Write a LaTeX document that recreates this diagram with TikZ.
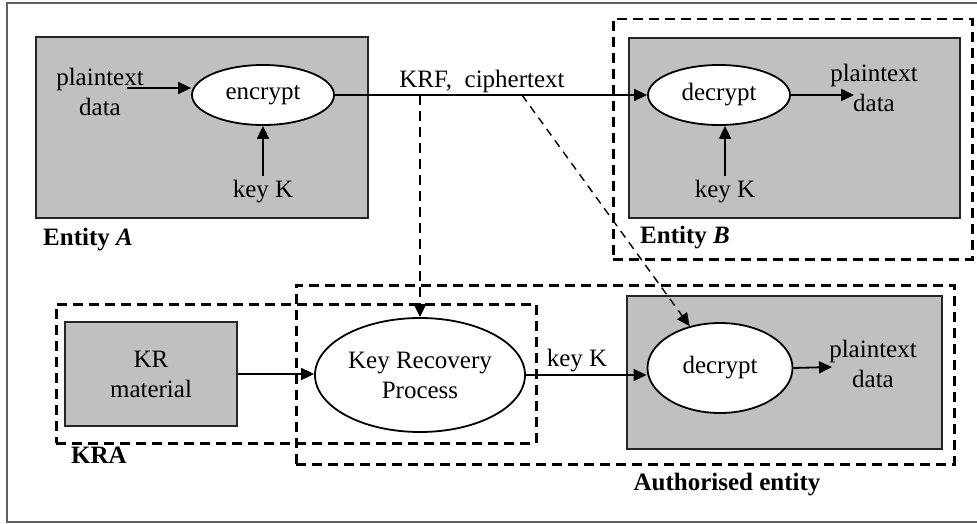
\documentclass[tikz,border=0pt]{standalone}
\usepackage{fontspec}
\setmainfont{Liberation Serif}
\usetikzlibrary{shapes.geometric,arrows.meta,calc}
\definecolor{gboxfill}{HTML}{C0C0C0}
\definecolor{framegray}{HTML}{606060}
\begin{document}
\begin{tikzpicture}[x=1pt,y=-1pt,
  every node/.style={font=\fontsize{25}{30}\selectfont, inner sep=3pt},
  graybox/.style={draw=black!85, line width=1.8pt, fill=gboxfill, anchor=north west, inner sep=0pt},
  dashbox/.style={draw=black, line width=2.5pt, dash pattern=on 10pt off 6pt, anchor=north west, inner sep=0pt},
  proc/.style={ellipse, draw=black, line width=1.8pt, fill=white, inner sep=0pt, align=center},
  arr/.style={line width=1.8pt, -{Triangle[length=13pt,width=12pt]}},
  darr/.style={line width=2.2pt, dash pattern=on 10pt off 6pt, -{Triangle[length=13pt,width=12pt]}},
  thinarr/.style={line width=1.4pt, dash pattern=on 8pt off 6pt, -{Triangle[length=13pt,width=12pt]}},
  lab/.style={anchor=base},
  two/.style={align=center},
  bold/.style={font=\fontsize{25}{30}\selectfont\bfseries}
]
\useasboundingbox (0,0) rectangle (977,524);
% outer frame
\draw[framegray, line width=2pt] (977,3) -- (7,3) -- (7,522) -- (977,522);

% grey boxes
\node[graybox, minimum width=332pt, minimum height=181pt] (boxA) at (35,36) {};
\node[graybox, minimum width=331pt, minimum height=180pt] (boxB) at (628,37) {};
\node[graybox, minimum width=315pt, minimum height=153pt] (boxC) at (626,295) {};

% dashed boxes
\node[dashbox, minimum width=359pt, minimum height=240pt] (dashB) at (612,18) {};
\node[dashbox, minimum width=658pt, minimum height=179pt] (dashC) at (295,284) {};
\node[dashbox, minimum width=480pt, minimum height=139pt] (dashK) at (55,303) {};

% KR material
\node[draw=black!85, line width=1.8pt, fill=gboxfill, minimum width=172pt, minimum height=104pt, align=center, inner sep=0pt] (kr) at (151,374) {KR\\material};

% processes
\node[proc, minimum width=142pt, minimum height=60pt] (enc) at (263,95) {encrypt};
\node[proc, minimum width=142pt, minimum height=60pt] (decB) at (719,95) {decrypt};
\node[proc, minimum width=210pt, minimum height=114pt] (krp) at (420,375) {Key Recovery\\Process};
\node[proc, minimum width=145pt, minimum height=90pt] (dec2) at (720,368) {decrypt};

% texts
\node[two] (pA) at (100,92) {plaintext\\data};
\node[two] (pB) at (874,88) {plaintext\\data};
\node[two] (pC) at (873,364) {plaintext\\data};
\node[lab] (kA) at (263,197) {key K};
\node[lab] (kB) at (725,197) {key K};
\node[lab] (kC) at (577,366) {key K};
\node[lab] (krf) at (482,88) {KRF,~ ciphertext};
\node[bold, anchor=base west] (entA) at (40,245) {Entity \textit{A}};
\node[bold, anchor=base west] (entB) at (637,243) {Entity \textit{B}};
\node[bold, anchor=base west] (kra) at (68,463) {KRA};
\node[bold, anchor=base] (auth) at (727,490) {Authorised entity};

% connectors
\coordinate (pAout) at (127,88);
\coordinate (j1) at (420,95);
\coordinate (j2) at (522,95);
\coordinate (pBin) at (854,95);
\coordinate (pCin) at (832,367);

\draw[arr] (pAout) -- (pAout -| enc.west);
\draw[arr] (kA.north) -- (enc.south);
\draw[arr] (enc.east) -- (decB.west);
\draw[darr] (j1) -- (krp.north);
\draw[thinarr] (j2) -- (dec2);
\draw[arr] (decB.east) -- (pBin);
\draw[arr] (kB.north) -- (kB.north |- decB.south);
\draw[arr] (kr.east) -- (kr.east -| krp.west);
\draw[arr] (krp.east) -- (krp.east -| dec2.west);
\draw[arr] (dec2.east) -- (pCin);
\end{tikzpicture}
\end{document}
